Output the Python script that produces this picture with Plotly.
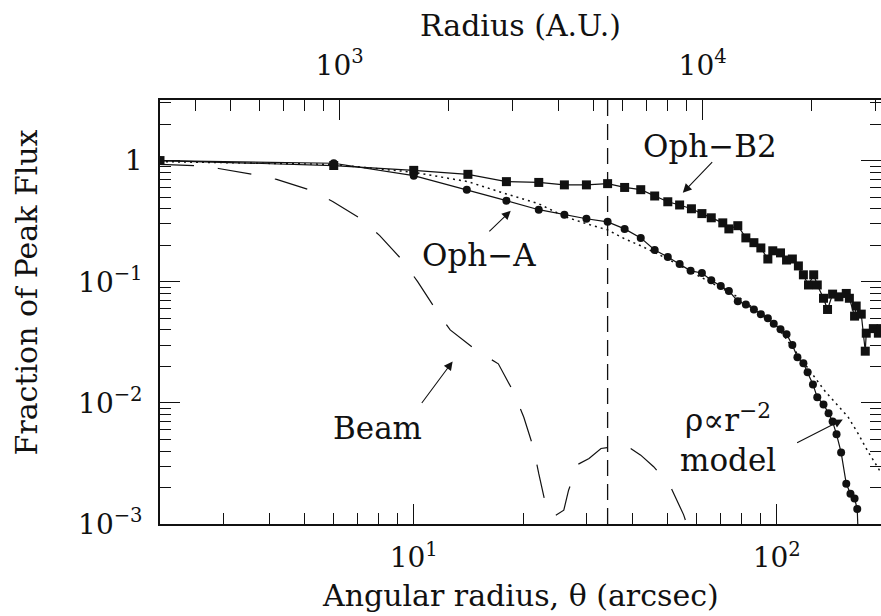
import math
import plotly.graph_objects as go

# Angular radius (arcsec) and normalised flux for the two cores
OPH_B2_THETA = [2.0, 6.02, 10.0, 14.1, 18.0, 22.1, 26.0, 29.9, 34.2, 38.1, 42.2, 46.1,
                50.1, 54.0, 58.2, 62.2, 66.0, 71.0, 73.8, 78.1, 82.2, 86.5, 90.4, 94.5,
                97.5, 102.4, 106.4, 110.4, 114.7, 118.4, 122.3, 126.4, 129.3, 134.5,
                138.0, 142.5, 148.3, 155.4, 158.5, 163.8, 165.5, 170.9, 175.3, 176.4,
                184.5, 190.5, 193.9]
OPH_B2_FLUX = [1.0, 0.91, 0.83, 0.77, 0.67, 0.66, 0.63, 0.63, 0.645, 0.60, 0.575, 0.51,
               0.457, 0.43, 0.40, 0.365, 0.337, 0.306, 0.273, 0.29, 0.23, 0.21, 0.19, 0.154,
               0.18, 0.173, 0.151, 0.154, 0.135, 0.114, 0.094, 0.114, 0.094, 0.073,
               0.059, 0.079, 0.075, 0.080, 0.073, 0.052, 0.063, 0.054, 0.0267, 0.0376,
               0.041, 0.0376, 0.041]

OPH_A_THETA = [2.0, 6.02, 10.0, 14.0, 18.0, 22.1, 26.0, 29.9, 34.2, 38.1, 42.2, 46.1,
               50.1, 54.0, 57.9, 62.2, 66.0, 70.1, 73.8, 78.1, 82.2, 86.5, 90.4, 94.5,
               98.1, 102.4, 106.4, 110.4, 114.0, 118.4, 121.6, 125.8, 129.3, 134.5,
               138.9, 142.5, 146.1, 150.4, 155.4, 159.6, 163.8, 166.6]
OPH_A_FLUX = [1.0, 0.95, 0.75, 0.575, 0.467, 0.393, 0.357, 0.331, 0.312, 0.273, 0.23, 0.183,
              0.16, 0.14, 0.123, 0.118, 0.103, 0.092, 0.084, 0.069, 0.065, 0.059, 0.054, 0.050,
              0.045, 0.0406, 0.0369, 0.030, 0.0238, 0.0212, 0.0179, 0.0142, 0.0111, 0.0097,
              0.0082, 0.0070, 0.0055, 0.0039, 0.00215, 0.00178, 0.00162, 0.00133]
# profile keeps falling below the plotted range after the last point
OPH_A_TAIL_THETA = [166.6, 169.0]
OPH_A_TAIL_FLUX = [0.00133, 0.0004]

# rho ~ r^-2 model convolved with the beam
MODEL_THETA = [2.0, 6.0, 10.0, 14.1, 18.0, 22.1, 26.1, 30.0, 34.2, 38.1, 42.2, 50.1,
               61.8, 79.4, 100.0, 124.0, 136.0, 157.0, 168.0, 178.0, 193.0]
MODEL_FLUX = [0.98, 0.93, 0.80, 0.67, 0.53, 0.44, 0.344, 0.30, 0.268, 0.226, 0.198, 0.154,
              0.109, 0.073, 0.043, 0.018, 0.0124, 0.0077, 0.0055, 0.0040, 0.0027]

# telescope beam profile
BEAM_THETA = [2.0, 2.48, 2.90, 3.60, 4.19, 5.14, 5.98, 7.15, 8.06, 9.33, 10.25, 11.5,
              12.6, 14.9, 17.1, 18.8, 20.1, 21.4, 22.1, 23.1, 24.3, 25.9, 26.7, 28.3,
              30.4, 32.8, 34.8, 38.9, 42.2, 45.8, 51.0, 55.4, 59.8]
BEAM_FLUX = [0.93, 0.91, 0.86, 0.77, 0.70, 0.575, 0.46, 0.33, 0.24, 0.149, 0.10, 0.059,
             0.040, 0.027, 0.021, 0.0124, 0.0076, 0.0042, 0.0026, 0.00144, 0.00115, 0.0013,
             0.0019, 0.0031, 0.00347, 0.0042, 0.0043, 0.00435, 0.0037, 0.00297, 0.00203,
             0.00119, 0.0006]

VLINE_THETA = [34.2]

DIST_PC = 160.0          # 1 arcsec = 160 AU
X_RANGE = [2.0, 193.7]   # arcsec
Y_RANGE = [1e-3, 10 ** 0.5]

X_TICKS = [10, 100]
X_TICKTEXT = ["10<sup>1</sup>", "10<sup>2</sup>"]
AU_TICKS = [1000, 10000]
AU_TICKTEXT = ["10<sup>3</sup>", "10<sup>4</sup>"]
Y_TICKS = [1e-3, 1e-2, 1e-1, 1]
Y_TICKTEXT = ["10<sup>−3</sup>", "10<sup>−2</sup>", "10<sup>−1</sup>", "1"]

FONT = "DejaVu Serif"
INK = "#111111"


def minor_log(lo, hi):
    vals = []
    d = 10 ** math.floor(math.log10(lo))
    while d <= hi:
        for m in range(2, 10):
            v = m * d
            if lo <= v <= hi:
                vals.append(v)
        d *= 10
    return vals


fig = go.Figure()

fig.add_trace(go.Scatter(x=BEAM_THETA, y=BEAM_FLUX, mode="lines",
                         line=dict(color=INK, width=1.2, dash="34px,24px"),
                         hoverinfo="skip"))
fig.add_trace(go.Scatter(x=MODEL_THETA, y=MODEL_FLUX, mode="lines",
                         line=dict(color=INK, width=1.5, dash="2px,4px"),
                         hoverinfo="skip"))
fig.add_trace(go.Scatter(x=OPH_B2_THETA, y=OPH_B2_FLUX, mode="lines+markers",
                         line=dict(color=INK, width=1.2),
                         marker=dict(symbol="square", size=9, color=INK)))
fig.add_trace(go.Scatter(x=OPH_A_TAIL_THETA, y=OPH_A_TAIL_FLUX, mode="lines",
                         line=dict(color=INK, width=1.2), hoverinfo="skip"))
fig.add_trace(go.Scatter(x=OPH_A_THETA, y=OPH_A_FLUX, mode="lines+markers",
                         line=dict(color=INK, width=1.2),
                         marker=dict(symbol="circle", size=8, color=INK)))

# invisible traces that carry the top (AU) and right axes
fig.add_trace(go.Scatter(x=[X_RANGE[0] * DIST_PC, X_RANGE[1] * DIST_PC], y=[1, 1],
                         xaxis="x2", yaxis="y", mode="lines", opacity=0,
                         hoverinfo="skip"))
fig.add_trace(go.Scatter(x=X_RANGE, y=[1, 1], xaxis="x", yaxis="y2", mode="lines",
                         opacity=0, hoverinfo="skip"))

for t in VLINE_THETA:
    fig.add_shape(type="line", xref="x", yref="paper", x0=t, x1=t, y0=0, y1=1,
                  line=dict(color=INK, width=1.3, dash="16px,8px"))

lx = [math.log10(v) for v in X_RANGE]
ly = [math.log10(v) for v in Y_RANGE]
lau = [math.log10(v * DIST_PC) for v in X_RANGE]

tickfont = dict(family=FONT, size=28, color=INK)
common = dict(type="log", showgrid=False, zeroline=False, ticks="inside",
              ticklen=20, tickwidth=1.3, tickcolor=INK, tickfont=tickfont)


def minor(lo, hi):
    return dict(tickvals=minor_log(lo, hi), ticks="inside", ticklen=11,
                tickwidth=1.3, tickcolor=INK)


fig.update_layout(
    width=881, height=616,
    margin=dict(l=160, r=0, t=100, b=92),
    paper_bgcolor="white", plot_bgcolor="white",
    showlegend=False,
    font=dict(family=FONT, color=INK),
    xaxis=dict(**common, range=lx, tickvals=X_TICKS, ticktext=X_TICKTEXT,
               minor=minor(*X_RANGE), ticklabelstandoff=8,
               showline=True, linecolor=INK, linewidth=1.6, mirror=False),
    xaxis2=dict(**common, range=lau, overlaying="x", side="top", anchor="y",
                tickvals=AU_TICKS, ticktext=AU_TICKTEXT, ticklabelstandoff=12,
                minor=minor(X_RANGE[0] * DIST_PC, X_RANGE[1] * DIST_PC),
                showline=True, linecolor=INK, linewidth=1.6),
    yaxis=dict(**common, range=ly, tickvals=Y_TICKS, ticktext=Y_TICKTEXT,
               minor=minor(*Y_RANGE), ticklabelstandoff=10,
               showline=True, linecolor=INK, linewidth=1.6, mirror=False),
    yaxis2=dict(**common, range=ly, overlaying="y", side="right", anchor="x",
                tickvals=Y_TICKS, showticklabels=False,
                minor=minor(*Y_RANGE), showline=False),
)

title_font = dict(family=FONT, size=30, color=INK)
label_font = dict(family=FONT, size=31, color=INK)

# axis titles
fig.add_annotation(text="Angular radius, θ (arcsec)", xref="paper", yref="paper",
                   x=0.5, y=0, yanchor="bottom", yshift=-91, showarrow=False,
                   font=title_font)
fig.add_annotation(text="Radius (A.U.)", xref="paper", yref="paper",
                   x=0.5, y=1, yanchor="bottom", yshift=55, showarrow=False, font=title_font)
fig.add_annotation(text="Fraction of Peak Flux", xref="paper", yref="paper",
                   x=0, y=0.545, xanchor="right", xshift=-114, textangle=-90,
                   showarrow=False, font=title_font)

# curve labels
fig.add_annotation(text="Oph−B2", x=math.log10(65.3), y=math.log10(1.33),
                   showarrow=False, font=label_font)
fig.add_annotation(text="Oph−A", x=math.log10(15.1), y=math.log10(0.165),
                   showarrow=False, font=label_font)
fig.add_annotation(text="Beam", x=math.log10(7.96), y=math.log10(0.00625),
                   showarrow=False, font=label_font)
fig.add_annotation(text="ρ∝r<sup>−2</sup><br>model", x=math.log10(73.3),
                   y=math.log10(0.0051), showarrow=False, font=label_font, align="center")

# arrows: (tail, head) in data coordinates
ARROWS = [((67.0, 1.0), (55.1, 0.543)),
          ((16.0, 0.253), (18.5, 0.385)),
          ((10.45, 0.0097), (12.8, 0.022)),
          ((112.7, 0.00461), (152.0, 0.00728))]
for (tx, ty), (hx, hy) in ARROWS:
    fig.add_annotation(x=math.log10(hx), y=math.log10(hy),
                       ax=math.log10(tx), ay=math.log10(ty),
                       axref="x", ayref="y", xref="x", yref="y", text="",
                       showarrow=True, arrowhead=2, arrowsize=1.6, arrowwidth=1.1,
                       arrowcolor=INK, standoff=0)

fig.write_html("out.html")
